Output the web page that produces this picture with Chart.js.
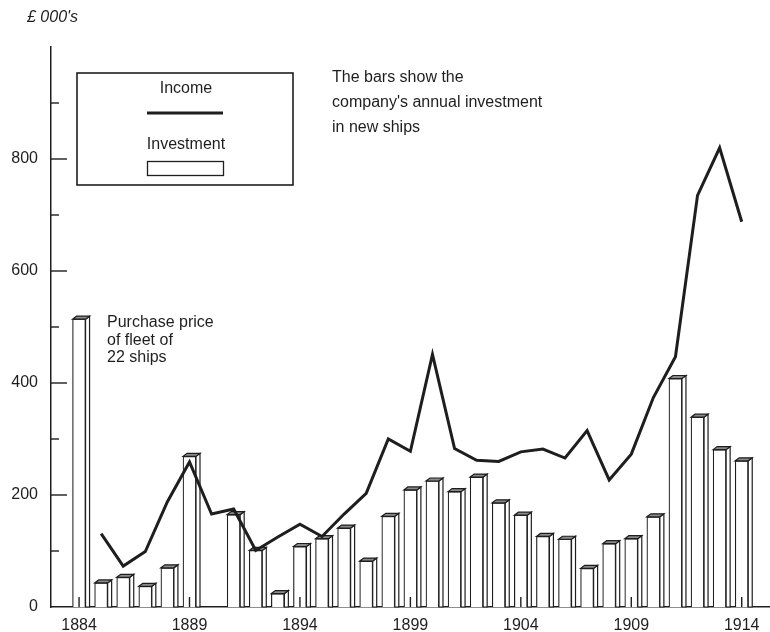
<!DOCTYPE html>
<html>
<head>
<meta charset="utf-8">
<script src="https://cdn.jsdelivr.net/npm/chart.js@4.4.1/dist/chart.umd.min.js"></script>
<style>
  html, body { margin: 0; padding: 0; background: #fff; }
  #wrap { width: 770px; height: 632px; }
</style>
</head>
<body>
<div id="wrap"><canvas id="chart" width="770" height="632"></canvas></div>
<script>
const years = [1884, 1885, 1886, 1887, 1888, 1889, 1890, 1891, 1892, 1893, 1894,
  1895, 1896, 1897, 1898, 1899, 1900, 1901, 1902, 1903, 1904,
  1905, 1906, 1907, 1908, 1909, 1910, 1911, 1912, 1913, 1914];

const investment = [514, 43, 53, 37, 70, 269, null, 165, 101, 24, 108,
  122, 141, 82, 162, 209, 225, 206, 232, 186, 164,
  126, 121, 69, 113, 122, 161, 408, 339, 281, 261];

const income = [null, 131, 73, 99, 188, 259, 166, 175, 101, 125, 148,
  126, 166, 203, 300, 278, 451, 283, 262, 260, 277,
  282, 266, 315, 227, 273, 374, 447, 735, 820, 688];

const yearTicks = [1884, 1889, 1894, 1899, 1904, 1909, 1914];
const yMajor = [200, 400, 600, 800];
const yMinor = [100, 300, 500, 700, 900];

const ink = "#1e1e1e";
const font = "'Liberation Sans', Arial, Helvetica, sans-serif";

// bars get a thin side and top face so they look like the printed 3D bars
const depthBars = {
  id: "depthBars",
  afterDatasetDraw(chart, args) {
    if (chart.data.datasets[args.index].type !== "bar") return;
    const ctx = chart.ctx;
    const d = 4, dy = 3;
    ctx.save();
    ctx.strokeStyle = ink;
    ctx.lineWidth = 1.2;
    args.meta.data.forEach((bar, i) => {
      if (investment[i] == null) return;
      const { x, y, base, width } = bar.getProps(["x", "y", "base", "width"], true);
      const l = x - width / 2, r = x + width / 2;
      ctx.beginPath();
      ctx.moveTo(r, y);
      ctx.lineTo(r + d, y - dy);
      ctx.lineTo(r + d, base);
      ctx.lineTo(r, base);
      ctx.closePath();
      ctx.fillStyle = "#fff";
      ctx.fill();
      ctx.stroke();
      ctx.beginPath();
      ctx.moveTo(l, y);
      ctx.lineTo(l + d, y - dy);
      ctx.lineTo(r + d, y - dy);
      ctx.lineTo(r, y);
      ctx.closePath();
      ctx.fillStyle = "#8a8a8a";
      ctx.fill();
      ctx.stroke();
    });
    ctx.restore();
  }
};

// inward tick marks, legend box and the notes
const extras = {
  id: "extras",
  afterDraw(chart) {
    const ctx = chart.ctx;
    const xs = chart.scales.x, ys = chart.scales.y;
    const left = chart.chartArea.left, bottom = chart.chartArea.bottom;
    ctx.save();
    ctx.strokeStyle = ink;
    ctx.lineWidth = 1.4;
    yMajor.forEach((v) => {
      const py = ys.getPixelForValue(v);
      ctx.beginPath(); ctx.moveTo(left, py); ctx.lineTo(left + 16, py); ctx.stroke();
    });
    yMinor.forEach((v) => {
      const py = ys.getPixelForValue(v);
      ctx.beginPath(); ctx.moveTo(left, py); ctx.lineTo(left + 8, py); ctx.stroke();
    });
    yearTicks.forEach((v) => {
      const px = xs.getPixelForValue(v);
      ctx.beginPath(); ctx.moveTo(px, bottom); ctx.lineTo(px, bottom - 10); ctx.stroke();
    });

    // legend
    ctx.lineWidth = 1.6;
    ctx.strokeRect(77, 73, 216, 112);
    ctx.fillStyle = ink;
    ctx.font = "16px " + font;
    ctx.textAlign = "center";
    ctx.textBaseline = "middle";
    ctx.fillText(chart.data.datasets[0].label, 186, 89);
    ctx.fillText(chart.data.datasets[1].label, 186, 145);
    ctx.lineWidth = 3;
    ctx.beginPath(); ctx.moveTo(147, 113); ctx.lineTo(223, 113); ctx.stroke();
    ctx.lineWidth = 1.3;
    ctx.strokeRect(147.5, 161.5, 76, 14);

    // notes
    ctx.textAlign = "left";
    ctx.fillText("The bars show the", 332, 78);
    ctx.fillText("company's annual investment", 332, 103);
    ctx.fillText("in new ships", 332, 128);
    ctx.fillText("Purchase price", 107, 323);
    ctx.fillText("of fleet of", 107, 341);
    ctx.fillText("22 ships", 107, 358);
    ctx.font = "italic 16px " + font;
    ctx.fillText("£ 000's", 27, 18);
    ctx.restore();
  }
};

const ctx = document.getElementById("chart");
new Chart(ctx, {
  data: {
    datasets: [
      {
        type: "line",
        label: "Income",
        data: years.map((yr, i) => ({ x: yr, y: income[i] })),
        borderColor: ink,
        borderWidth: 3,
        pointRadius: 0,
        tension: 0,
        order: 0
      },
      {
        type: "bar",
        label: "Investment",
        data: years.map((yr, i) => ({ x: yr, y: investment[i] })),
        backgroundColor: "#fff",
        borderColor: ink,
        borderWidth: 1.2,
        barThickness: 13,
        order: 1
      }
    ]
  },
  options: {
    responsive: false,
    animation: false,
    layout: { padding: { top: 47, left: 0, right: 0, bottom: 0 } },
    plugins: {
      legend: { display: false },
      tooltip: { enabled: false }
    },
    scales: {
      x: {
        type: "linear",
        offset: false,
        min: 1882.73,
        max: 1915.28,
        afterBuildTicks: (s) => { s.ticks = yearTicks.map((v) => ({ value: v })); },
        afterFit: (s) => { s.height = 25; },
        grid: { display: false, drawTicks: false },
        border: { display: true, color: ink, width: 1.5 },
        ticks: {
          color: ink,
          padding: 9,
          maxRotation: 0,
          autoSkip: false,
          font: { family: font, size: 16 },
          callback: (v) => String(v)
        }
      },
      y: {
        min: 0,
        max: 1000,
        afterFit: (s) => { s.width = 51; },
        grid: { display: false, drawTicks: false },
        border: { display: true, color: ink, width: 1.5 },
        ticks: {
          stepSize: 100,
          color: ink,
          padding: 13,
          font: { family: font, size: 16 },
          callback: (v) => (v % 200 === 0 && v < 1000 ? v : "")
        }
      }
    }
  },
  plugins: [depthBars, extras]
});
</script>
</body>
</html>
